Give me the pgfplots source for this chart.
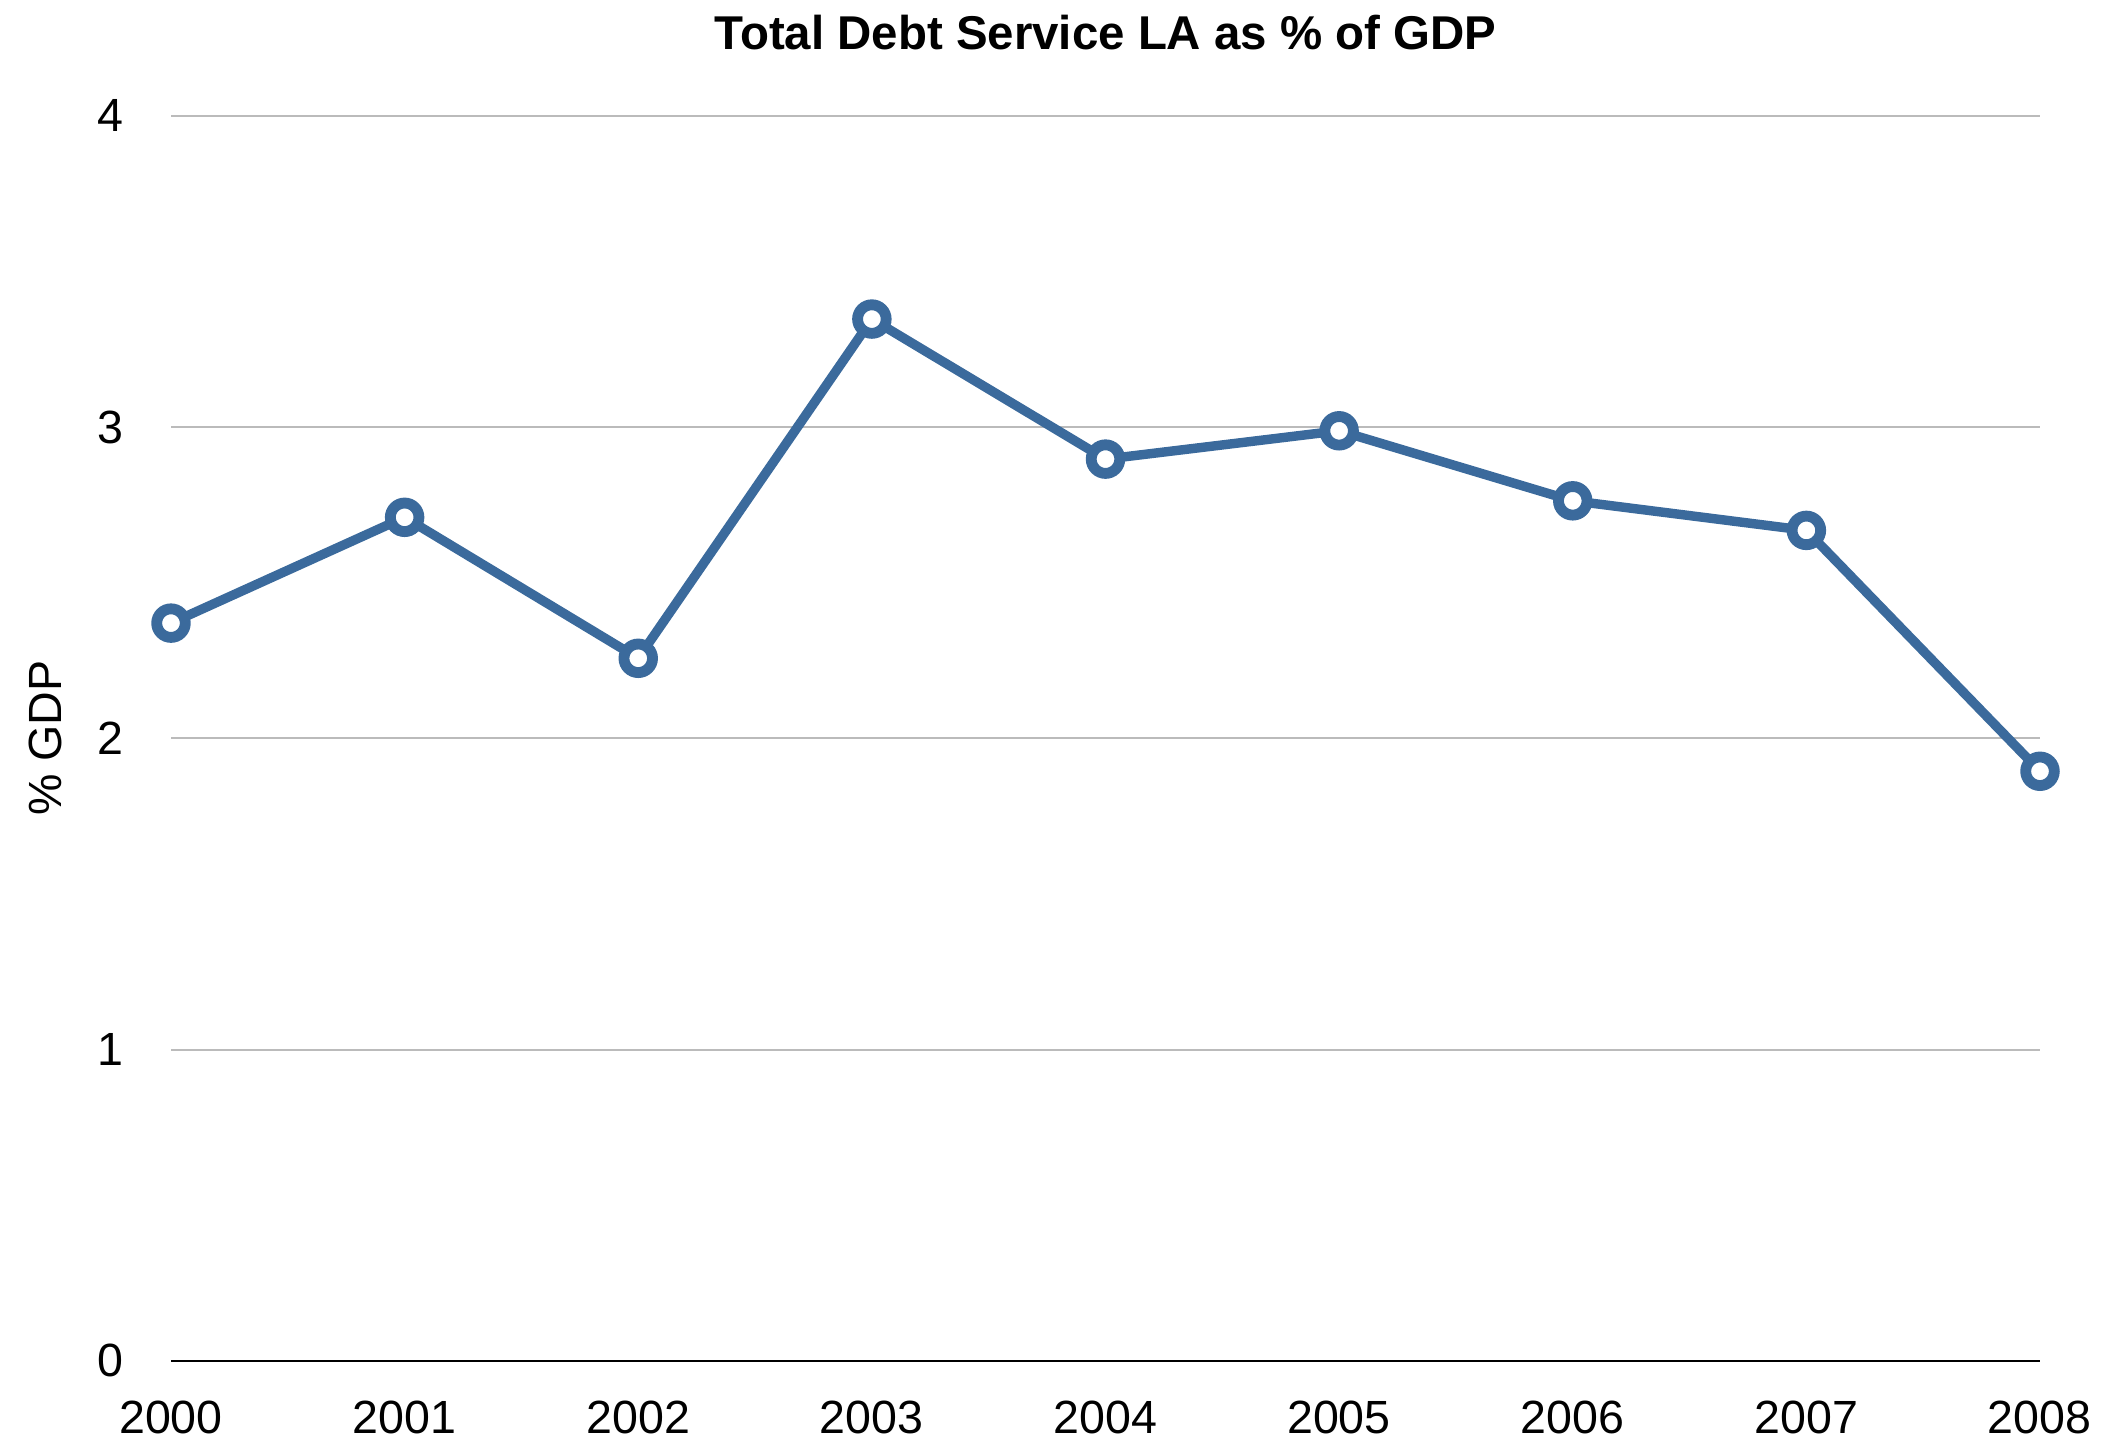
\documentclass[border=0pt]{standalone}
\usepackage{fontspec}
\setmainfont{Liberation Sans}
\usepackage{pgfplots}
\pgfplotsset{compat=1.18}
\definecolor{lineblue}{HTML}{3B6A9C}
\definecolor{gridgray}{HTML}{BBBBBB}
\begin{document}
\begin{tikzpicture}
\begin{axis}[
  scale only axis,
  width=654.15pt, height=435.7pt,
  xmin=2000, xmax=2008, ymin=0, ymax=4,
  xtick={2000,...,2008}, ytick={0,1,2,3,4},
  /pgf/number format/assume math mode=true,
  /pgf/number format/1000 sep={},
  font=\fontsize{16.3pt}{19pt}\selectfont,
  major tick length=0pt,
  separate axis lines,
  axis x line*=bottom, axis y line*=left,
  x axis line style={black, line width=0.8pt, -},
  y axis line style={draw=none},
  ymajorgrids, major grid style={gridgray, line width=0.7pt},
  xticklabel style={inner sep=0pt, anchor=north, yshift=-14pt},
  yticklabel style={inner sep=0pt, anchor=east, xshift=-16.5pt},
  title={Total Debt Service LA as \% of GDP},
  title style={at={(0.5,1)}, anchor=south, inner sep=0pt, yshift=16.9pt, font=\fontsize{16.6pt}{19pt}\selectfont\bfseries},
  ylabel={\% GDP},
  ylabel style={at={(axis description cs:0,0.5)}, rotate=0, anchor=south, inner sep=0pt, yshift=37.8pt},
  clip=false,
]
\addplot[lineblue, line width=3.3pt, mark=*, mark size=5pt,
  mark options={fill=white, draw=lineblue, line width=3.8pt}]
  coordinates {
  (2000,2.37) (2001,2.71) (2002,2.257) (2003,3.347) (2004,2.897)
  (2005,2.988) (2006,2.763) (2007,2.668) (2008,1.894)
  };
\end{axis}
\pgfresetboundingbox
\path[use as bounding box] ([shift={(-59.85pt,-28.8pt)}]current axis.south west) rectangle ([shift={(24.5pt,40.55pt)}]current axis.north east);
\end{tikzpicture}
\end{document}
